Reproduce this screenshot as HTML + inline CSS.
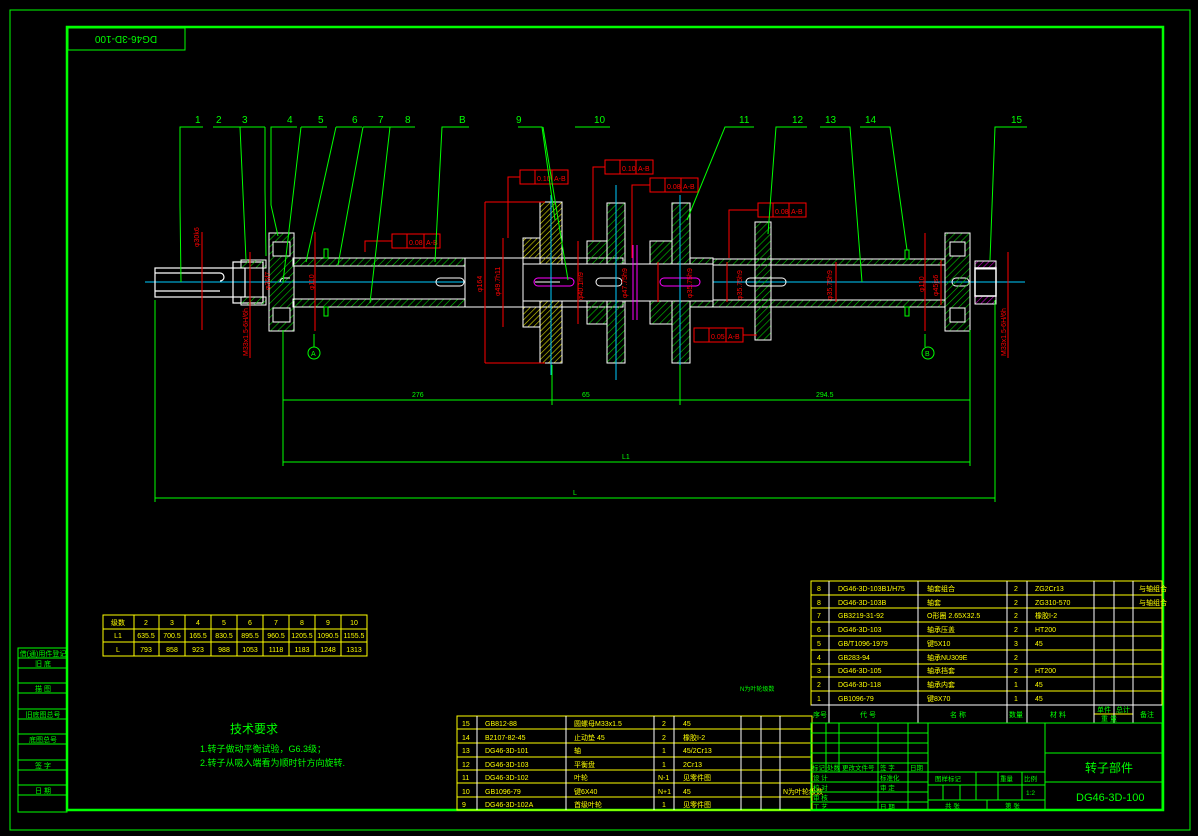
<!DOCTYPE html>
<html><head><meta charset="utf-8"><style>
html,body{margin:0;padding:0;background:#000;}
svg{display:block}
text{font-family:"Liberation Sans","Noto Sans CJK SC",sans-serif;}
</style></head><body>
<svg width="1198" height="836" viewBox="0 0 1198 836" xmlns="http://www.w3.org/2000/svg">
<defs>
<pattern id="h" width="5" height="5" patternUnits="userSpaceOnUse" patternTransform="rotate(45)"><line x1="0" y1="0" x2="0" y2="5" stroke="#0c0" stroke-width="1.2"/></pattern>
<pattern id="hy" width="4" height="4" patternUnits="userSpaceOnUse" patternTransform="rotate(45)"><line x1="0" y1="0" x2="0" y2="4" stroke="#dd0" stroke-width="1.2"/></pattern>
<pattern id="hm" width="4" height="4" patternUnits="userSpaceOnUse" patternTransform="rotate(45)"><line x1="0" y1="0" x2="0" y2="4" stroke="#c0c" stroke-width="1.2"/></pattern>
</defs>
<rect width="1198" height="836" fill="#000"/>
<!-- frames -->
<rect x="10" y="10" width="1180" height="820" fill="none" stroke="#0f0" stroke-width="1"/>
<rect x="67" y="27" width="1096" height="783" fill="none" stroke="#0f0" stroke-width="2.5"/>
<rect x="68" y="28" width="117" height="22" fill="none" stroke="#0f0"/>
<text x="126" y="44" fill="#0f0" font-size="10" text-anchor="middle" transform="rotate(180 126 40)">DG46-3D-100</text>
<!-- left strip -->
<g stroke="#0f0" fill="none">
<rect x="18" y="648" width="49" height="164"/>
<line x1="18" y1="658" x2="67" y2="658"/><line x1="18" y1="668" x2="67" y2="668"/>
<line x1="18" y1="683" x2="67" y2="683"/><line x1="18" y1="693" x2="67" y2="693"/>
<line x1="18" y1="709" x2="67" y2="709"/><line x1="18" y1="719" x2="67" y2="719"/>
<line x1="18" y1="734" x2="67" y2="734"/><line x1="18" y1="744" x2="67" y2="744"/>
<line x1="18" y1="760" x2="67" y2="760"/><line x1="18" y1="770" x2="67" y2="770"/>
<line x1="18" y1="785" x2="67" y2="785"/><line x1="18" y1="795" x2="67" y2="795"/>
</g>
<g fill="#0f0" font-size="7" text-anchor="middle">
<text x="43" y="656">借(通)用件登记</text><text x="43" y="666">旧 底</text><text x="43" y="691">描 图</text>
<text x="43" y="717">旧底图总号</text><text x="43" y="742">底图总号</text><text x="43" y="768">签 字</text><text x="43" y="793">日 期</text>
</g>
<!-- centerline -->
<line x1="145" y1="282" x2="1025" y2="282" stroke="#0cf" stroke-width="1"/>
<!-- left stub shaft -->
<g stroke="#fff" fill="none" stroke-width="1.2">
<rect x="155" y="268" width="90" height="29"/>
<path d="M155 273 H220 a4 4 0 0 1 0 8 M155 291 H220"/>
<rect x="233" y="262" width="30" height="41"/>
</g>
<rect x="241" y="260" width="25" height="8" fill="url(#h)" stroke="#fff"/>
<rect x="241" y="297" width="25" height="8" fill="url(#h)" stroke="#fff"/>
<!-- bearing A -->
<rect x="269" y="233" width="25" height="98" fill="url(#h)" stroke="#fff"/>
<rect x="273" y="242" width="17" height="14" fill="#000" stroke="#fff"/>
<rect x="273" y="308" width="17" height="14" fill="#000" stroke="#fff"/>
<!-- left shaft tube -->
<rect x="293" y="258" width="172" height="8" fill="url(#h)" stroke="#fff"/>
<rect x="293" y="299" width="172" height="8" fill="url(#h)" stroke="#fff"/>
<rect x="465" y="258" width="58" height="49" fill="#000" stroke="#fff"/>
<path d="M280 282 a4 4 0 0 1 4 -4 H290 M440 278 H460 a4 4 0 0 1 0 8 H440 a4 4 0 0 1 0 -8" stroke="#fff" fill="none"/>
<rect x="324" y="249" width="4" height="9" fill="none" stroke="#0f0"/><rect x="324" y="307" width="4" height="9" fill="none" stroke="#0f0"/>
<!-- impellers -->
<g stroke="#fff">
<rect x="523" y="238" width="17" height="89" fill="url(#hy)"/>
<rect x="523" y="258" width="100" height="49" fill="#000"/>
<rect x="540" y="202" width="22" height="161" fill="url(#hy)"/>
<rect x="587" y="241" width="20" height="83" fill="url(#h)"/>
<rect x="607" y="203" width="18" height="160" fill="url(#h)"/>
<rect x="650" y="241" width="22" height="83" fill="url(#h)"/>
<rect x="672" y="203" width="18" height="160" fill="url(#h)"/>
<rect x="523" y="264" width="190" height="37" fill="#000"/>
<rect x="690" y="258" width="23" height="6" fill="url(#h)"/><rect x="690" y="301" width="23" height="6" fill="url(#h)"/>
</g>
<path d="M535 282 H560 M600 278 H618 a4 4 0 0 1 0 8 H600 a4 4 0 0 1 0 -8" stroke="#fff" fill="none"/>
<rect x="534" y="278" width="40" height="8" rx="4" fill="none" stroke="#f0f"/>
<rect x="660" y="278" width="40" height="8" rx="4" fill="none" stroke="#f0f"/>
<line x1="633" y1="245" x2="633" y2="320" stroke="#f0f"/><line x1="637" y1="245" x2="637" y2="320" stroke="#f0f"/>
<g stroke="#0cf"><line x1="551" y1="195" x2="551" y2="375"/><line x1="616" y1="185" x2="616" y2="380"/><line x1="680" y1="195" x2="680" y2="375"/></g>
<!-- right shaft -->
<rect x="713" y="259" width="232" height="6" fill="url(#h)" stroke="#fff"/>
<rect x="713" y="300" width="232" height="7" fill="url(#h)" stroke="#fff"/>
<rect x="755" y="222" width="16" height="118" fill="url(#h)" stroke="#fff"/>
<path d="M746 282 a4 4 0 0 1 4 -4 H782 a4 4 0 0 1 0 8 H750 a4 4 0 0 1 -4 -4 M952 282 a4 4 0 0 1 4 -4 H965 a4 4 0 0 1 0 8 H956 a4 4 0 0 1 -4 -4" stroke="#fff" fill="none"/>
<rect x="905" y="250" width="4" height="9" fill="none" stroke="#0f0"/><rect x="905" y="307" width="4" height="9" fill="none" stroke="#0f0"/>
<!-- bearing B -->
<rect x="945" y="233" width="25" height="98" fill="url(#h)" stroke="#fff"/>
<rect x="950" y="242" width="15" height="14" fill="#000" stroke="#fff"/>
<rect x="950" y="308" width="15" height="14" fill="#000" stroke="#fff"/>
<rect x="975" y="261" width="21" height="8" fill="url(#hm)" stroke="#fff"/>
<rect x="975" y="296" width="21" height="8" fill="url(#hm)" stroke="#fff"/>
<rect x="975" y="268" width="21" height="28" fill="none" stroke="#fff" stroke-width="1.5"/>
<!-- red dims -->
<g stroke="#f00" fill="none">
<line x1="202" y1="232" x2="202" y2="330"/><line x1="250" y1="252" x2="250" y2="358"/><line x1="315" y1="232" x2="315" y2="331"/>
<line x1="485" y1="202" x2="485" y2="363"/><line x1="485" y1="202" x2="545" y2="202"/><line x1="485" y1="363" x2="545" y2="363"/>
<line x1="503" y1="238" x2="503" y2="327"/><line x1="578" y1="241" x2="578" y2="324"/>
<line x1="658" y1="262" x2="658" y2="302"/><line x1="727" y1="262" x2="727" y2="302"/><line x1="836" y1="262" x2="836" y2="302"/>
<line x1="925" y1="233" x2="925" y2="331"/><line x1="941" y1="260" x2="941" y2="305"/><line x1="1008" y1="252" x2="1008" y2="358"/>
</g>
<g fill="#f00" font-size="7">
<text transform="translate(199 247) rotate(-90)">φ30k6</text>
<text transform="translate(248 356) rotate(-90)">M33x1.5-6H/6h</text>
<text transform="translate(270 290) rotate(-90)">φ35f7</text>
<text transform="translate(314 290) rotate(-90)">φ110</text>
<text transform="translate(482 292) rotate(-90)">φ164</text>
<text transform="translate(500 296) rotate(-90)">φ49.7h11</text>
<text transform="translate(583 300) rotate(-90)">φ40.1m9</text>
<text transform="translate(627 298) rotate(-90)">φ47.75h9</text>
<text transform="translate(692 298) rotate(-90)">φ35.75h9</text>
<text transform="translate(742 300) rotate(-90)">φ35.75h9</text>
<text transform="translate(832 300) rotate(-90)">φ35.75h9</text>
<text transform="translate(924 292) rotate(-90)">φ110</text>
<text transform="translate(938 296) rotate(-90)">φ45js6</text>
<text transform="translate(1006 356) rotate(-90)">M33x1.5-6H/6h</text>
</g>
<!-- tolerance frames -->
<g stroke="#f00" fill="none">
<rect x="392" y="234" width="48" height="14"/><line x1="407" y1="234" x2="407" y2="248"/><line x1="424" y1="234" x2="424" y2="248"/><path d="M392 241 H365 V252"/>
<rect x="520" y="170" width="48" height="14"/><line x1="535" y1="170" x2="535" y2="184"/><line x1="552" y1="170" x2="552" y2="184"/><path d="M520 177 H508 V238"/>
<rect x="605" y="160" width="48" height="14"/><line x1="620" y1="160" x2="620" y2="174"/><line x1="636" y1="160" x2="636" y2="174"/><path d="M605 167 H593 V240"/>
<rect x="650" y="178" width="48" height="14"/><line x1="665" y1="178" x2="665" y2="192"/><line x1="681" y1="178" x2="681" y2="192"/><path d="M650 185 H632 V258"/>
<rect x="758" y="203" width="48" height="14"/><line x1="773" y1="203" x2="773" y2="217"/><line x1="789" y1="203" x2="789" y2="217"/><path d="M758 210 H729 V258"/>
<rect x="694" y="328" width="49" height="14"/><line x1="709" y1="328" x2="709" y2="342"/><line x1="726" y1="328" x2="726" y2="342"/><path d="M743 335 H757"/>
</g>
<g fill="#f00" font-size="7">
<text x="409" y="245">0.08</text><text x="426" y="245">A-B</text>
<text x="537" y="181">0.10</text><text x="554" y="181">A-B</text>
<text x="622" y="171">0.10</text><text x="638" y="171">A-B</text>
<text x="667" y="189">0.08</text><text x="683" y="189">A-B</text>
<text x="775" y="214">0.08</text><text x="791" y="214">A-B</text>
<text x="711" y="339">0.05</text><text x="728" y="339">A-B</text>
</g>
<!-- datum A/B -->
<g stroke="#0f0" fill="none"><line x1="314" y1="334" x2="314" y2="347"/><circle cx="314" cy="353" r="6"/><line x1="925" y1="334" x2="925" y2="347"/><circle cx="928" cy="353" r="6"/></g>
<text x="311" y="356" fill="#0f0" font-size="7">A</text><text x="925" y="356" fill="#0f0" font-size="7">B</text>
<!-- leaders -->
<g stroke="#0f0" fill="none" stroke-width="1">
<path d="M203 127 H180 V205 L181 282"/>
<path d="M213 127 H265 M240 127 L246 260"/>
<path d="M265 127 V190 L266 256"/>
<path d="M297 127 H271 V205 L278 236"/>
<path d="M301 127 H327 M301 127 L283 282"/>
<path d="M336 127 H362 M336 127 L306 262"/>
<path d="M363 127 H415 M363 127 L338 265 M390 127 L370 303"/>
<path d="M469 127 H442 L435 262"/>
<path d="M518 127 H542 L555 220"/>
<path d="M543 127 L568 280"/>
<path d="M575 127 H610"/>
<path d="M754 127 H725 L687 220"/>
<path d="M807 127 H776 L768 234"/>
<path d="M820 127 H850 L862 282"/>
<path d="M860 127 H890 L907 250"/>
<path d="M1027 127 H995 L990 260"/>
</g>
<g fill="#0f0" font-size="10">
<text x="195" y="123">1</text><text x="216" y="123">2</text><text x="242" y="123">3</text><text x="287" y="123">4</text><text x="318" y="123">5</text>
<text x="352" y="123">6</text><text x="378" y="123">7</text><text x="405" y="123">8</text><text x="459" y="123">B</text><text x="516" y="123">9</text>
<text x="594" y="123">10</text><text x="739" y="123">11</text><text x="792" y="123">12</text><text x="825" y="123">13</text><text x="865" y="123">14</text><text x="1011" y="123">15</text>
</g>
<!-- green dims -->
<g stroke="#0f0" fill="none">
<line x1="155" y1="300" x2="155" y2="502"/><line x1="995" y1="300" x2="995" y2="502"/>
<line x1="283" y1="330" x2="283" y2="466"/><line x1="970" y1="330" x2="970" y2="466"/>
<line x1="552" y1="365" x2="552" y2="405"/><line x1="680" y1="365" x2="680" y2="405"/>
<line x1="155" y1="498" x2="995" y2="498"/><line x1="283" y1="462" x2="970" y2="462"/>
<line x1="283" y1="400" x2="970" y2="400"/>
</g>
<g fill="#0f0" font-size="7"><text x="412" y="397">276</text><text x="582" y="397">65</text><text x="816" y="397">294.5</text><text x="622" y="459">L1</text><text x="573" y="495">L</text></g>
<!-- L table -->
<g stroke="#ff0" fill="none">
<rect x="103" y="615" width="264" height="41"/><line x1="103" y1="629" x2="367" y2="629"/><line x1="103" y1="642" x2="367" y2="642"/>
<line x1="134" y1="615" x2="134" y2="656"/><line x1="159" y1="615" x2="159" y2="656"/><line x1="185" y1="615" x2="185" y2="656"/><line x1="211" y1="615" x2="211" y2="656"/><line x1="237" y1="615" x2="237" y2="656"/><line x1="263" y1="615" x2="263" y2="656"/><line x1="289" y1="615" x2="289" y2="656"/><line x1="315" y1="615" x2="315" y2="656"/><line x1="341" y1="615" x2="341" y2="656"/>
</g>
<g fill="#ff0" font-size="7" text-anchor="middle">
<text x="118" y="625">级数</text><text x="146" y="625">2</text><text x="172" y="625">3</text><text x="198" y="625">4</text><text x="224" y="625">5</text><text x="250" y="625">6</text><text x="276" y="625">7</text><text x="302" y="625">8</text><text x="328" y="625">9</text><text x="354" y="625">10</text>
<text x="118" y="638">L1</text><text x="146" y="638">635.5</text><text x="172" y="638">700.5</text><text x="198" y="638">165.5</text><text x="224" y="638">830.5</text><text x="250" y="638">895.5</text><text x="276" y="638">960.5</text><text x="302" y="638">1205.5</text><text x="328" y="638">1090.5</text><text x="354" y="638">1155.5</text>
<text x="118" y="652">L</text><text x="146" y="652">793</text><text x="172" y="652">858</text><text x="198" y="652">923</text><text x="224" y="652">988</text><text x="250" y="652">1053</text><text x="276" y="652">1118</text><text x="302" y="652">1183</text><text x="328" y="652">1248</text><text x="354" y="652">1313</text>
</g>
<!-- tech requirements -->
<text x="230" y="733" fill="#0f0" font-size="12">技术要求</text>
<text x="200" y="752" fill="#0f0" font-size="9">1.转子做动平衡试验，G6.3级；</text>
<text x="200" y="766" fill="#0f0" font-size="9">2.转子从吸入端看为顺时针方向旋转.</text>
<text x="740" y="691" fill="#0f0" font-size="6">N为叶轮级数</text>
<!-- bottom parts list -->
<g stroke="#ff0" fill="none">
<rect x="457" y="716" width="355" height="94"/>
<line x1="457" y1="729" x2="812" y2="729"/><line x1="457" y1="743" x2="812" y2="743"/><line x1="457" y1="757" x2="812" y2="757"/><line x1="457" y1="770" x2="812" y2="770"/><line x1="457" y1="783" x2="812" y2="783"/><line x1="457" y1="797" x2="812" y2="797"/>
</g>
<g stroke="#fff"><line x1="477" y1="716" x2="477" y2="810"/><line x1="566" y1="716" x2="566" y2="810"/><line x1="654" y1="716" x2="654" y2="810"/><line x1="674" y1="716" x2="674" y2="810"/><line x1="741" y1="716" x2="741" y2="810"/><line x1="761" y1="716" x2="761" y2="810"/><line x1="780" y1="716" x2="780" y2="810"/></g>
<g fill="#ff0" font-size="7">
<text x="462" y="726">15</text><text x="485" y="726">GB812-88</text><text x="574" y="726">圆螺母M33x1.5</text><text x="662" y="726">2</text><text x="683" y="726">45</text>
<text x="462" y="740">14</text><text x="485" y="740">B2107-82-45</text><text x="574" y="740">止动垫 45</text><text x="662" y="740">2</text><text x="683" y="740">橡胶I-2</text>
<text x="462" y="753">13</text><text x="485" y="753">DG46-3D-101</text><text x="574" y="753">轴</text><text x="662" y="753">1</text><text x="683" y="753">45/2Cr13</text>
<text x="462" y="767">12</text><text x="485" y="767">DG46-3D-103</text><text x="574" y="767">平衡盘</text><text x="662" y="767">1</text><text x="683" y="767">2Cr13</text>
<text x="462" y="780">11</text><text x="485" y="780">DG46-3D-102</text><text x="574" y="780">叶轮</text><text x="658" y="780">N-1</text><text x="683" y="780">见零件图</text>
<text x="462" y="794">10</text><text x="485" y="794">GB1096-79</text><text x="574" y="794">键6X40</text><text x="658" y="794">N+1</text><text x="683" y="794">45</text><text x="783" y="794">N为叶轮级数</text>
<text x="462" y="807">9</text><text x="485" y="807">DG46-3D-102A</text><text x="574" y="807">首级叶轮</text><text x="662" y="807">1</text><text x="683" y="807">见零件图</text>
</g>
<!-- right parts list -->
<g stroke="#ff0" fill="none">
<rect x="811" y="581" width="351" height="124"/>
<line x1="811" y1="595" x2="1162" y2="595"/><line x1="811" y1="608" x2="1162" y2="608"/><line x1="811" y1="622" x2="1162" y2="622"/><line x1="811" y1="636" x2="1162" y2="636"/><line x1="811" y1="650" x2="1162" y2="650"/><line x1="811" y1="664" x2="1162" y2="664"/><line x1="811" y1="677" x2="1162" y2="677"/><line x1="811" y1="691" x2="1162" y2="691"/>
<line x1="1094" y1="714" x2="1133" y2="714"/>
</g>
<g stroke="#fff"><line x1="829" y1="581" x2="829" y2="723"/><line x1="918" y1="581" x2="918" y2="723"/><line x1="1007" y1="581" x2="1007" y2="723"/><line x1="1027" y1="581" x2="1027" y2="723"/><line x1="1094" y1="581" x2="1094" y2="723"/><line x1="1114" y1="581" x2="1114" y2="723"/><line x1="1133" y1="581" x2="1133" y2="723"/><line x1="811" y1="723" x2="1162" y2="723"/><line x1="811" y1="705" x2="1162" y2="705"/></g>
<g fill="#ff0" font-size="7">
<text x="817" y="591">8</text><text x="838" y="591">DG46-3D-103B1/H75</text><text x="927" y="591">轴套组合</text><text x="1014" y="591">2</text><text x="1035" y="591">ZG2Cr13</text><text x="1139" y="591">与轴组合</text>
<text x="817" y="605">8</text><text x="838" y="605">DG46-3D-103B</text><text x="927" y="605">轴套</text><text x="1014" y="605">2</text><text x="1035" y="605">ZG310-570</text><text x="1139" y="605">与轴组合</text>
<text x="817" y="618">7</text><text x="838" y="618">GB3219-31-92</text><text x="927" y="618">O形圈 2.65X32.5</text><text x="1014" y="618">2</text><text x="1035" y="618">橡胶I-2</text>
<text x="817" y="632">6</text><text x="838" y="632">DG46-3D-103</text><text x="927" y="632">轴承压盖</text><text x="1014" y="632">2</text><text x="1035" y="632">HT200</text>
<text x="817" y="646">5</text><text x="838" y="646">GB/T1096-1979</text><text x="927" y="646">键5X10</text><text x="1014" y="646">3</text><text x="1035" y="646">45</text>
<text x="817" y="660">4</text><text x="838" y="660">GB283-94</text><text x="927" y="660">轴承NU309E</text><text x="1014" y="660">2</text>
<text x="817" y="673">3</text><text x="838" y="673">DG46-3D-105</text><text x="927" y="673">轴承挡套</text><text x="1014" y="673">2</text><text x="1035" y="673">HT200</text>
<text x="817" y="687">2</text><text x="838" y="687">DG46-3D-118</text><text x="927" y="687">轴承内套</text><text x="1014" y="687">1</text><text x="1035" y="687">45</text>
<text x="817" y="701">1</text><text x="838" y="701">GB1096-79</text><text x="927" y="701">键8X70</text><text x="1014" y="701">1</text><text x="1035" y="701">45</text>
</g>
<g fill="#0f0" font-size="7">
<text x="813" y="717">序号</text><text x="860" y="717">代 号</text><text x="950" y="717">名 称</text><text x="1009" y="717">数量</text><text x="1050" y="717">材 料</text><text x="1097" y="712">单件</text><text x="1116" y="712">总计</text><text x="1101" y="721">重 量</text><text x="1140" y="717">备注</text>
</g>
<!-- title block -->
<g stroke="#0f0" fill="none">
<rect x="811" y="723" width="351" height="87"/>
<line x1="811" y1="733" x2="928" y2="733"/><line x1="811" y1="743" x2="928" y2="743"/><line x1="811" y1="753" x2="928" y2="753"/><line x1="811" y1="763" x2="928" y2="763"/>
<line x1="811" y1="772" x2="928" y2="772"/><line x1="811" y1="782" x2="928" y2="782"/><line x1="811" y1="792" x2="928" y2="792"/><line x1="811" y1="802" x2="928" y2="802"/>
<line x1="826" y1="723" x2="826" y2="772"/><line x1="839" y1="723" x2="839" y2="772"/><line x1="878" y1="723" x2="878" y2="810"/><line x1="908" y1="723" x2="908" y2="810"/><line x1="928" y1="723" x2="928" y2="810"/>
<line x1="1045" y1="723" x2="1045" y2="810"/><line x1="1045" y1="753" x2="1162" y2="753"/><line x1="1045" y1="782" x2="1162" y2="782"/>
<line x1="928" y1="772" x2="1045" y2="772"/><line x1="928" y1="785" x2="1045" y2="785"/><line x1="928" y1="800" x2="1045" y2="800"/>
<line x1="976" y1="772" x2="976" y2="800"/><line x1="998" y1="772" x2="998" y2="800"/><line x1="1022" y1="772" x2="1022" y2="800"/><line x1="943" y1="785" x2="943" y2="800"/><line x1="960" y1="785" x2="960" y2="800"/><line x1="987" y1="800" x2="987" y2="810"/>
</g>
<g fill="#0f0" font-size="6.5">
<text x="812" y="770">标记</text><text x="827" y="770">处数</text><text x="842" y="770">更改文件号</text><text x="880" y="770">签 字</text><text x="910" y="770">日期</text>
<text x="813" y="780">设 计</text><text x="880" y="780">标准化</text><text x="813" y="790">校 对</text><text x="880" y="790">审 定</text><text x="813" y="800">审 核</text><text x="813" y="809">工 艺</text><text x="880" y="809">日 期</text>
<text x="935" y="781">图样标记</text><text x="1000" y="781">重量</text><text x="1024" y="781">比例</text><text x="1026" y="795">1:2</text>
<text x="945" y="808">共 张</text><text x="1005" y="808">第 张</text>
</g>
<text x="1085" y="772" fill="#0f0" font-size="12">转子部件</text>
<text x="1076" y="801" fill="#0f0" font-size="11">DG46-3D-100</text>
</svg>
</body></html>
